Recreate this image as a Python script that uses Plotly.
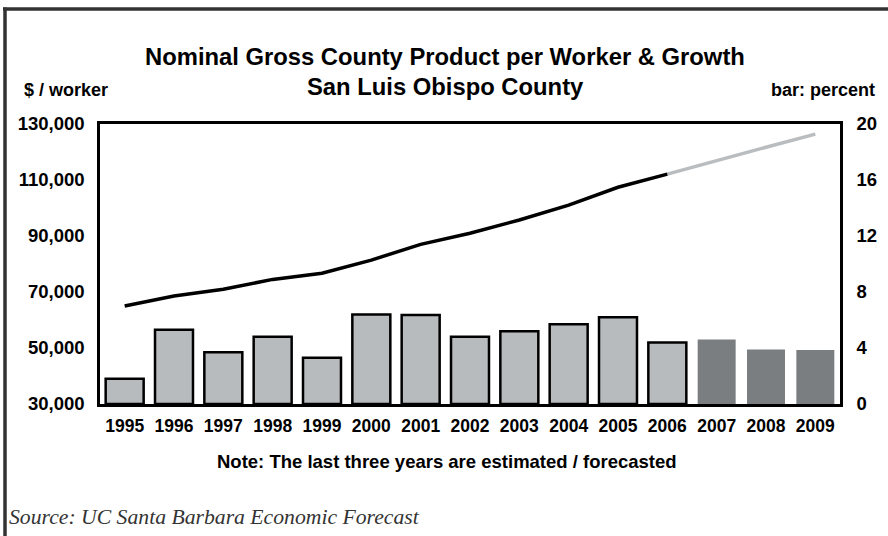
import plotly.graph_objects as go

years = ["1995", "1996", "1997", "1998", "1999", "2000", "2001", "2002",
         "2003", "2004", "2005", "2006", "2007", "2008", "2009"]
gcp_per_worker = [65000, 68600, 71000, 74500, 76700, 81400, 87000, 91000,
                  95700, 101000, 107400, 112100, 117000, 121700, 126400]
growth_pct = [1.8, 5.3, 3.7, 4.8, 3.3, 6.4, 6.35, 4.8, 5.2, 5.7, 6.2, 4.4,
              4.6, 3.9, 3.85]
forecast_start = 12  # 2007 onward are estimates / forecasts

left_ticks = [30000, 50000, 70000, 90000, 110000, 130000]
right_ticks = [0, 4, 8, 12, 16, 20]

n = len(years)
hist = [i < forecast_start for i in range(n)]
bar_colors = ["#b8bbbe" if h else "#7b7e81" for h in hist]
bar_line_w = [2.5 if h else 0 for h in hist]

actual_line = [v if i < forecast_start else None for i, v in enumerate(gcp_per_worker)]
fc_line = [v if i >= forecast_start - 1 else None for i, v in enumerate(gcp_per_worker)]

FONT = "Liberation Sans, Arial, Helvetica, sans-serif"

fig = go.Figure()
fig.add_trace(go.Bar(
    x=years, y=growth_pct, yaxis="y",
    marker=dict(color=bar_colors, line=dict(color="black", width=bar_line_w)),
    showlegend=False, hoverinfo="x+y",
))
fig.add_trace(go.Scatter(
    x=years, y=fc_line, yaxis="y2", mode="lines",
    line=dict(color="#b9bdc0", width=3.5), showlegend=False,
))
fig.add_trace(go.Scatter(
    x=years, y=actual_line, yaxis="y2", mode="lines",
    line=dict(color="black", width=3.5), showlegend=False,
))

W, H = 888, 536
L, R, T, B = 100, 48, 124, 132
pw, ph = W - L - R, H - T - B


def px(x):
    return (x - L) / pw


def py(y):
    return (H - B - y) / ph


fig.update_layout(
    width=W, height=H,
    margin=dict(l=L, r=R, t=T, b=B, pad=0),
    paper_bgcolor="white", plot_bgcolor="white",
    bargap=0.23,
    font=dict(family=FONT, color="black"),
    xaxis=dict(
        type="category", showline=True, linecolor="black", linewidth=2.5,
        mirror=True, showgrid=False, ticks="", ticklabelstandoff=4,
        tickfont=dict(size=17.5, family=FONT, weight="bold"),
    ),
    yaxis=dict(
        side="right", range=[0, 20], tickvals=right_ticks,
        showline=True, linecolor="black", linewidth=2.5, showgrid=False,
        zeroline=False, ticks="", ticklabelstandoff=10,
        tickfont=dict(size=18.5, family=FONT, weight="bold"),
    ),
    yaxis2=dict(
        overlaying="y", side="left", range=[30000, 130000],
        tickvals=left_ticks, tickformat=",d",
        showline=True, linecolor="black", linewidth=2.5, showgrid=False,
        zeroline=False, ticks="", ticklabelstandoff=9,
        tickfont=dict(size=18.5, family=FONT, weight="bold"),
    ),
)

ann = [
    dict(text="Nominal Gross County Product per Worker & Growth",
         x=px(445), y=py(57), xanchor="center", yanchor="middle",
         font=dict(size=23.8, family=FONT, weight="bold")),
    dict(text="San Luis Obispo County",
         x=px(445), y=py(86), xanchor="center", yanchor="middle",
         font=dict(size=23.8, family=FONT, weight="bold")),
    dict(text="$ / worker", x=px(22), y=py(90), xanchor="left", yanchor="middle",
         font=dict(size=18, family=FONT, weight="bold")),
    dict(text="bar: percent", x=px(877), y=py(90), xanchor="right", yanchor="middle",
         font=dict(size=18, family=FONT, weight="bold")),
    dict(text="Note: The last three years are estimated / forecasted",
         x=px(447), y=py(461), xanchor="center", yanchor="middle",
         font=dict(size=18.5, family=FONT, weight="bold")),
    dict(text="<i>Source: UC Santa Barbara Economic Forecast</i>",
         x=px(7), y=py(517), xanchor="left", yanchor="middle",
         font=dict(size=21.7, family="Liberation Serif, Times New Roman, serif", color="#333333")),
]
for a in ann:
    a.update(xref="paper", yref="paper", showarrow=False)
fig.update_layout(annotations=ann)

fig.update_layout(shapes=[
    dict(type="line", xref="paper", yref="paper", x0=px(3), x1=px(888),
         y0=py(9), y1=py(9), line=dict(color="#333333", width=3.5)),
    dict(type="line", xref="paper", yref="paper", x0=px(5), x1=px(5),
         y0=py(7.5), y1=py(536), line=dict(color="#333333", width=3.5)),
])

fig.write_html(
    "out.html",
    config={"displayModeBar": False},
    post_script="document.body.style.margin='0';document.body.style.overflow='hidden';",
)
